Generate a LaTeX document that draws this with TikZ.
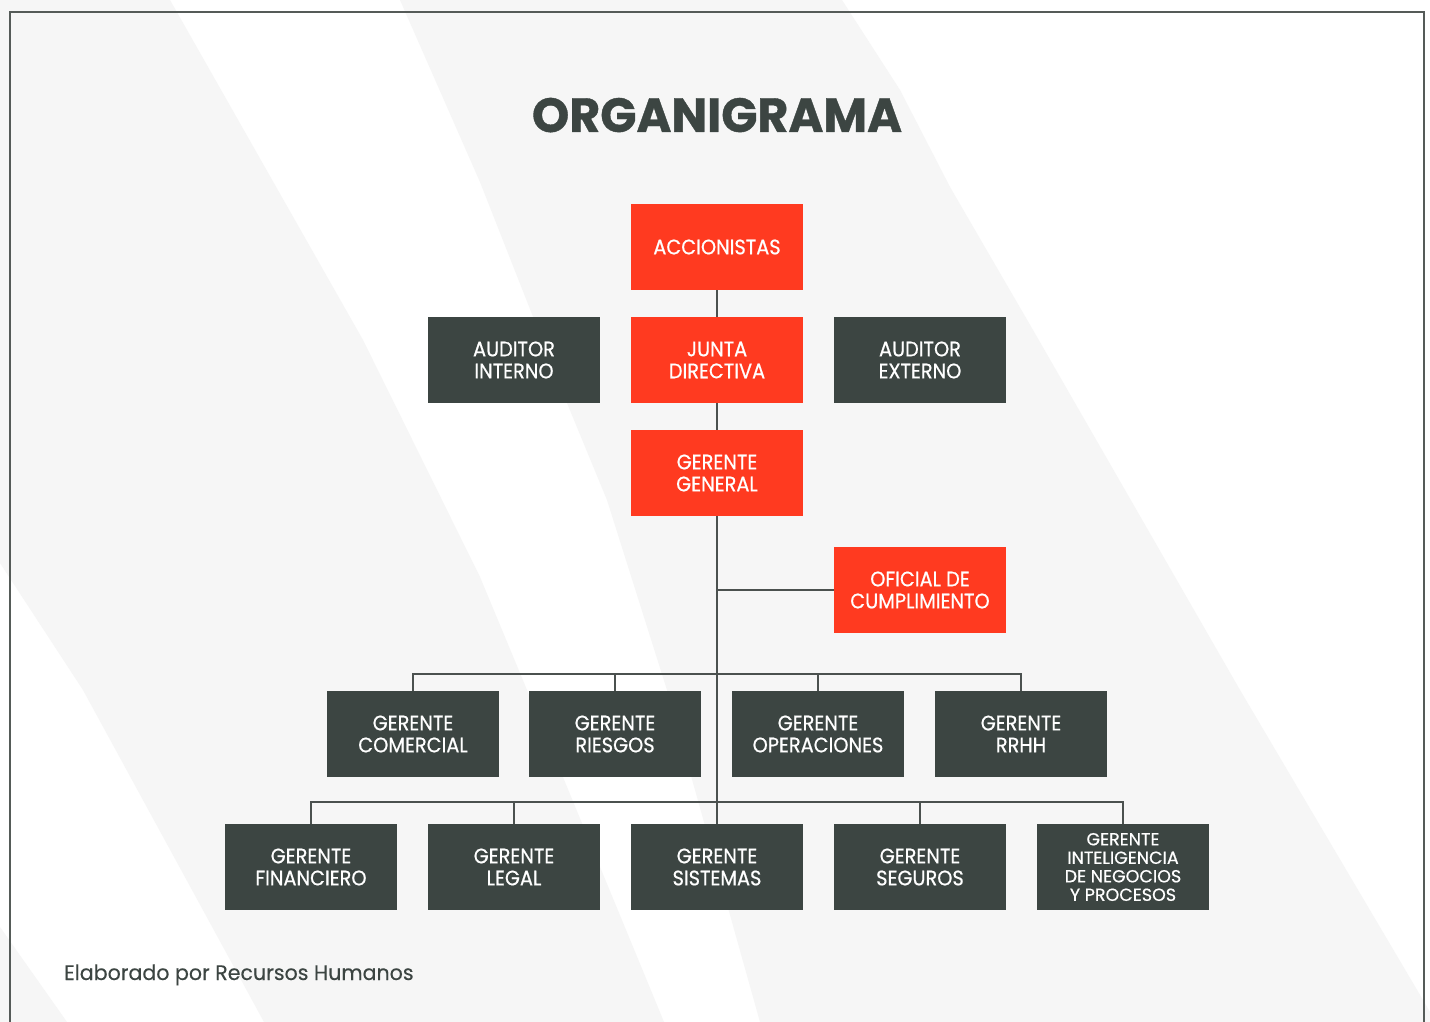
\documentclass[tikz,border=0pt]{standalone}
\usepackage{fontspec}
\setmainfont{Poppins}
\newfontfamily\boxfont[FakeStretch=0.92,FakeBold=0.6]{Poppins}
\newfontfamily\intelfont[FakeStretch=1.0,FakeBold=0.6]{Poppins}
\newfontfamily\footfont[FakeStretch=0.98,FakeBold=0.3]{Poppins}
\newfontfamily\titlefont[FakeStretch=0.99,FakeBold=0.8]{Poppins Bold}
\definecolor{bgband}{HTML}{F6F6F6}
\definecolor{darkbox}{HTML}{3C4542}
\definecolor{redbox}{HTML}{FF3A20}
\definecolor{linecol}{HTML}{4B514F}
\definecolor{framecol}{HTML}{555B58}
\tikzset{
  orgbox/.style={rectangle, minimum width=172pt, minimum height=86pt, inner sep=0pt,
    align=center, text=white, font=\boxfont\fontsize{21}{22}\selectfont},
  darknode/.style={orgbox, fill=darkbox},
  rednode/.style={orgbox, fill=redbox},
  conn/.style={draw=linecol, line width=2pt}
}
\begin{document}
\begin{tikzpicture}[x=1pt,y=-1pt]
\useasboundingbox (0,0) rectangle (1430,1022);
% background
\fill[white] (0,0) rectangle (1430,1022);
\fill[bgband] (0,0) -- (170,0) -- (363,340) -- (480,577) -- (527,690) -- (664,1022) -- (264,1022) -- (83,690) -- (0,563) -- cycle;
\fill[bgband] (0,927) -- (67,1022) -- (0,1022) -- cycle;
\fill[bgband] (400,0) -- (842,0) -- (900,90) -- (950,187) -- (1033,330) -- (1240,690) -- (1423,1000) -- (1430,1012) -- (1430,1022) -- (760,1022) -- (667,690) -- (607,500) -- (567,403) -- (480,182) -- cycle;
% frame
\draw[draw=framecol, line width=2.5pt] (10,1022) -- (10,12) -- (1424,12) -- (1424,1022);
% title
\node[anchor=base, text=darkbox, font=\titlefont\fontsize{48}{52}\selectfont, inner sep=0pt] (title) at (717,132) {ORGANIGRAMA};
% nodes
\node[rednode] (acc) at (717,247) {ACCIONISTAS};
\node[rednode] (junta) at (717,360) {JUNTA\\DIRECTIVA};
\node[darknode] (audi) at (514,360) {AUDITOR\\INTERNO};
\node[darknode] (aude) at (920,360) {AUDITOR\\EXTERNO};
\node[rednode] (gg) at (717,473) {GERENTE\\GENERAL};
\node[rednode] (ofi) at (920,590) {OFICIAL DE\\CUMPLIMIENTO};
\node[darknode] (com) at (413,734) {GERENTE\\COMERCIAL};
\node[darknode] (rie) at (615,734) {GERENTE\\RIESGOS};
\node[darknode] (ope) at (818,734) {GERENTE\\OPERACIONES};
\node[darknode] (rrhh) at (1021,734) {GERENTE\\RRHH};
\node[darknode] (fin) at (311,867) {GERENTE\\FINANCIERO};
\node[darknode] (leg) at (514,867) {GERENTE\\LEGAL};
\node[darknode] (sis) at (717,867) {GERENTE\\SISTEMAS};
\node[darknode] (seg) at (920,867) {GERENTE\\SEGUROS};
\node[darknode, font=\intelfont\fontsize{17.5}{18.5}\selectfont] (intel) at (1123,867) {GERENTE\\INTELIGENCIA\\DE NEGOCIOS\\Y PROCESOS};
% connectors
\coordinate (bus1) at (717,674);
\coordinate (bus2) at (717,802);
\draw[conn] (acc.south) -- (junta.north);
\draw[conn] (junta.south) -- (gg.north);
\draw[conn] (gg.south) -- (sis.north);
\draw[conn] (gg.south |- ofi.west) -- (ofi.west);
\draw[conn] (com.north) |- (bus1) -| (rrhh.north);
\draw[conn] (rie.north) -- (rie.north |- bus1);
\draw[conn] (ope.north) -- (ope.north |- bus1);
\draw[conn] (fin.north) |- (bus2) -| (intel.north);
\draw[conn] (leg.north) -- (leg.north |- bus2);
\draw[conn] (seg.north) -- (seg.north |- bus2);
% footer
\node[anchor=base west, text=darkbox, font=\footfont\fontsize{21}{24}\selectfont, inner sep=0pt] (foot) at (64,980) {Elaborado por Recursos Humanos};
\end{tikzpicture}
\end{document}
